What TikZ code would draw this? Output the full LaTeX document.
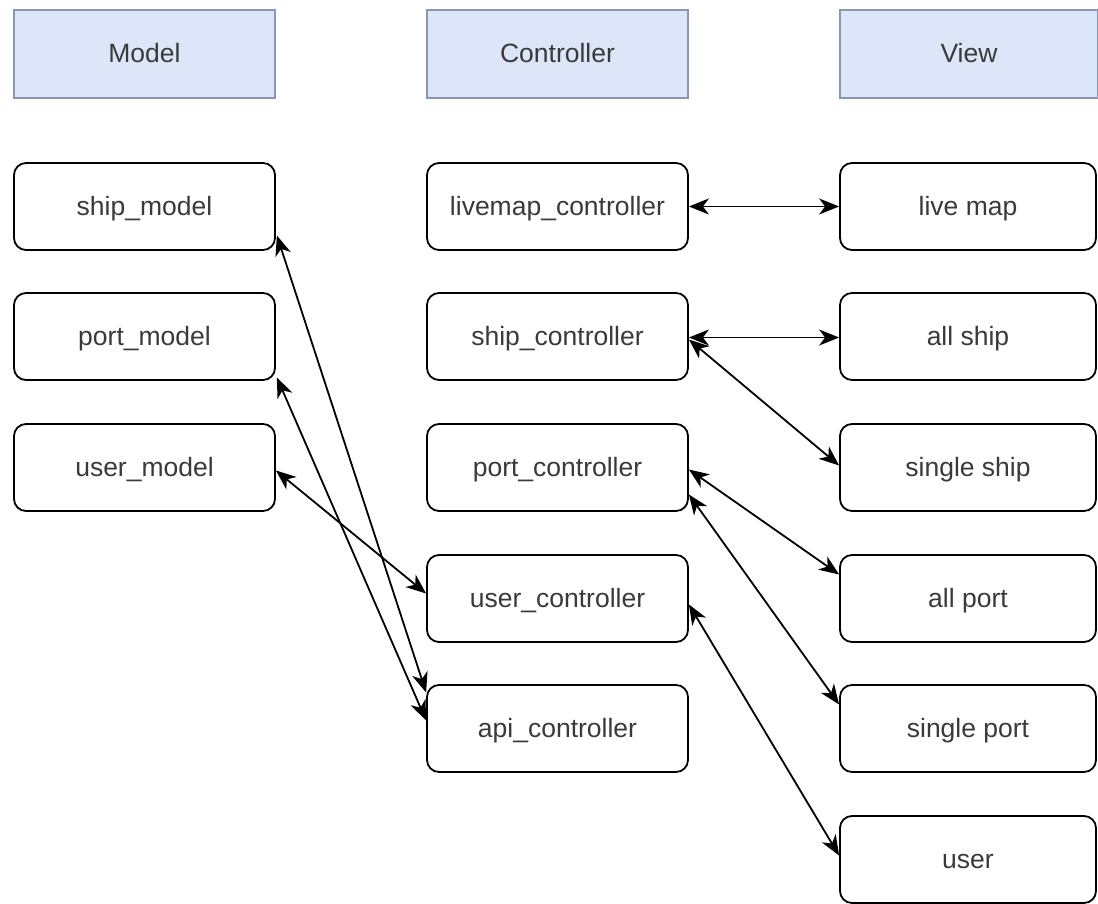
\documentclass[tikz,border=0pt]{standalone}
\usepackage{fontspec}
\setmainfont{Liberation Sans}
\usetikzlibrary{arrows.meta}
\definecolor{hdrfill}{HTML}{DCE6F8}
\definecolor{hdrdraw}{HTML}{8A96B4}
\definecolor{txt}{HTML}{3A3A3A}
\tikzset{tipstyle/.tip={Stealth[length=20pt,width=16pt,inset=6pt]}}
\begin{document}
\begin{tikzpicture}[x=1pt,y=-1pt,
  box/.style={draw=black,line width=1.8pt,rounded corners=12pt,fill=white,
    minimum width=261pt,minimum height=87pt,inner sep=0pt,
    text height=22pt,text depth=4pt,
    font=\fontsize{26.5}{30}\selectfont,text=txt},
  viewbox/.style={box,minimum width=256pt},
  hdr/.style={draw=hdrdraw,line width=1.5pt,fill=hdrfill,
    minimum width=261pt,minimum height=88pt,inner sep=0pt,
    text height=22pt,text depth=4pt,
    font=\fontsize{26.5}{30}\selectfont,text=txt},
  link/.style={line width=1.8pt,tipstyle-tipstyle}]
\useasboundingbox (0,0) rectangle (1098,904);
\fill[white] (0,0) rectangle (1098,904);
% headers
\node[hdr] (hm) at (144.5,54) {Model};
\node[hdr] (hc) at (557.5,54) {Controller};
\node[hdr,minimum width=258pt] (hv) at (969,54) {View};
% model
\node[box] (sm) at (144.5,206.5) {ship\_model};
\node[box] (pm) at (144.5,336.5) {port\_model};
\node[box] (um) at (144.5,467.5) {user\_model};
% controller
\node[box] (lc) at (557.5,206.5) {livemap\_controller};
\node[box] (sc) at (557.5,336.5) {ship\_controller};
\node[box] (pc) at (557.5,467.5) {port\_controller};
\node[box] (uc) at (557.5,598.5) {user\_controller};
\node[box] (ac) at (557.5,728.5) {api\_controller};
% view
\node[viewbox] (lm) at (968,206.5) {live map};
\node[viewbox] (as) at (968,336.5) {all ship};
\node[viewbox] (ss) at (968,467.5) {single ship};
\node[viewbox] (ap) at (968,598.5) {all port};
\node[viewbox] (sp) at (968,728.5) {single port};
\node[viewbox] (us) at (968,859.5) {user};
% connectors model-controller
\draw[link] ([xshift=1pt,yshift=-29pt]sm.east) -- ([yshift=36pt]ac.west);
\draw[link] ([xshift=1pt,yshift=-41pt]pm.east) -- ([yshift=8pt]ac.west);
\draw[link] ([yshift=-3pt]um.east) -- ([yshift=5pt]uc.west);
% connectors controller-view
\draw[link] (lc.east) -- (lm.west);
\draw[link] ([yshift=-1pt]sc.east) -- ([yshift=-1pt]as.west);
\draw[link] ([yshift=-3pt]sc.east) -- ([yshift=2pt]ss.west);
\draw[link] ([yshift=-2pt]pc.east) -- ([yshift=24pt]ap.west);
\draw[link] ([yshift=-27pt]pc.east) -- ([yshift=24pt]sp.west);
\draw[link] ([yshift=-6pt]uc.east) -- ([yshift=4pt]us.west);
\end{tikzpicture}
\end{document}
